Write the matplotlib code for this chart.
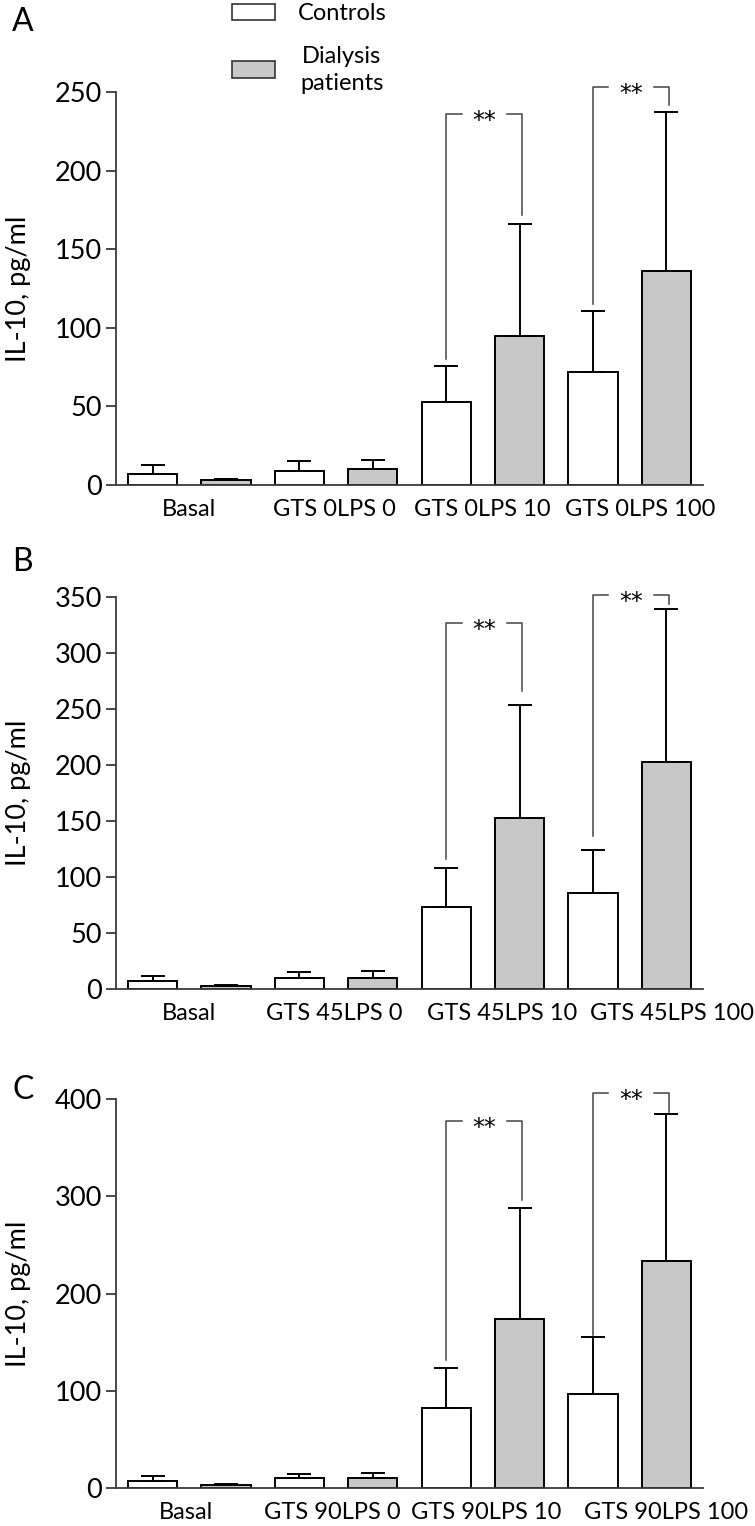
import matplotlib
matplotlib.use("Agg")
import matplotlib.pyplot as plt
import matplotlib.transforms as mtransforms
import numpy as np
from matplotlib.patches import Rectangle

plt.rcParams['font.family'] = ['Lato', 'DejaVu Sans']

# ---------------- data ----------------
group_labels_A = ["Basal", "GTS 0LPS 0", "GTS 0LPS 10", "GTS 0LPS 100"]
group_labels_B = ["Basal", "GTS 45LPS 0", "GTS 45LPS 10", "GTS 45LPS 100"]
group_labels_C = ["Basal", "GTS 90LPS 0", "GTS 90LPS 10", "GTS 90LPS 100"]

ctrl_A = [7, 9, 53, 72]
ctrl_A_top = [13, 15, 76, 111]
dial_A = [3, 10, 95, 136]
dial_A_top = [4, 16, 166, 237]

ctrl_B = [7, 10, 73, 86]
ctrl_B_top = [12, 15, 108, 124]
dial_B = [3, 10, 153, 203]
dial_B_top = [4, 16, 254, 339]

ctrl_C = [7, 10, 82, 97]
ctrl_C_top = [12, 14, 123, 155]
dial_C = [3, 10, 174, 233]
dial_C_top = [4, 15, 288, 385]

# significance brackets: (group index, bracket height, left end, right end)
sig_A = [(2, 236, 80, 172), (3, 253, 115, 242)]
sig_B = [(2, 327, 116, 266), (3, 352, 137, 344)]
sig_C = [(2, 377, 132, 296), (3, 406, 157, 387)]

yticks_A = [0, 50, 100, 150, 200, 250]
yticks_B = [0, 50, 100, 150, 200, 250, 300, 350]
yticks_C = [0, 100, 200, 300, 400]

label_x_A = [0.5, 2.48, 4.49, 6.64]
label_x_B = [0.5, 2.48, 4.76, 7.08]
label_x_C = [0.45, 2.45, 4.55, 7.0]

# ---------------- figure ----------------
W, H = 755, 1526
fig = plt.figure(figsize=(W / 100, H / 100), dpi=100)

GRAY = "#c8c8c8"
SPINE = "#3a3a3a"
BW = 0.67


def px_axes(top, bottom, left=116, right=703):
    return [left / W, 1 - bottom / H, (right - left) / W, (bottom - top) / H]


def panel(rect, ctrl, ctrl_top, dial, dial_top, yticks, labels, label_x, sig,
          letter, letter_y, top_px, bottom_px):
    ax = fig.add_axes(rect)
    n = len(ctrl)
    xc = np.arange(n) * 2
    xd = xc + 1
    ax.bar(xc, ctrl, width=BW, color="white", edgecolor="black", linewidth=1.4, zorder=2)
    ax.bar(xd, dial, width=BW, color=GRAY, edgecolor="black", linewidth=1.4, zorder=2)
    ax.errorbar(xc, ctrl, yerr=[np.zeros(n), np.array(ctrl_top) - np.array(ctrl)],
                fmt="none", ecolor="black", elinewidth=1.4, capsize=8.6, capthick=1.4, zorder=3)
    ax.errorbar(xd, dial, yerr=[np.zeros(n), np.array(dial_top) - np.array(dial)],
                fmt="none", ecolor="black", elinewidth=1.4, capsize=8.6, capthick=1.4, zorder=3)
    ax.set_xlim(-0.5, 7.5)
    ax.set_ylim(0, yticks[-1])
    ax.set_yticks(yticks)
    ax.set_xticks([])
    for s in ["top", "right"]:
        ax.spines[s].set_visible(False)
    for s in ["left", "bottom"]:
        ax.spines[s].set_color(SPINE)
        ax.spines[s].set_linewidth(1.3)
    ax.tick_params(axis="y", direction="out", length=7, width=1.3, color=SPINE,
                   labelsize=19.5, pad=3)
    for lx, lab in zip(label_x, labels):
        ax.text(lx, -0.035, lab, transform=ax.get_xaxis_transform(),
                ha="center", va="top", fontsize=17)
    # y label
    fig.text(19 / W, 1 - (top_px + bottom_px) / 2 / H, "IL-10, pg/ml", rotation=90,
             fontsize=19.5, ha="center", va="center")
    # significance brackets
    star_off = mtransforms.offset_copy(ax.transData, fig=fig, x=0, y=-10, units="points")
    for g, yb, le, re in sig:
        x0 = xc[g]
        x1 = xd[g] + 0.04
        xm = (x0 + x1) / 2
        gap = 0.31
        kw = dict(color="#444444", linewidth=1.1, clip_on=False, zorder=4)
        ax.plot([x0, x0, xm - gap], [le, yb, yb], **kw)
        ax.plot([xm + gap, x1, x1], [yb, yb, re], **kw)
        ax.text(xm, yb, "**", ha="center", va="baseline", fontsize=17,
                family=["DejaVu Sans"], transform=star_off, clip_on=False, zorder=5)
    fig.text(12 / W, 1 - letter_y / H, letter, fontsize=23, ha="left", va="center")
    return ax


panel(px_axes(92, 485), ctrl_A, ctrl_A_top, dial_A, dial_A_top, yticks_A,
      group_labels_A, label_x_A, sig_A, "A", 22, 92, 485)
panel(px_axes(597, 989), ctrl_B, ctrl_B_top, dial_B, dial_B_top, yticks_B,
      group_labels_B, label_x_B, sig_B, "B", 562, 597, 989)
panel(px_axes(1099, 1488), ctrl_C, ctrl_C_top, dial_C, dial_C_top, yticks_C,
      group_labels_C, label_x_C, sig_C, "C", 1090, 1099, 1488)

# legend (drawn manually as in the original)
fig.patches.append(Rectangle((232 / W, 1 - 20 / H), 43 / W, 16 / H, transform=fig.transFigure,
                             facecolor="white", edgecolor="#333333", linewidth=1.2))
fig.patches.append(Rectangle((232 / W, 1 - 78 / H), 43 / W, 17 / H, transform=fig.transFigure,
                             facecolor=GRAY, edgecolor="#333333", linewidth=1.2))
fig.text(342 / W, 1 - 13 / H, "Controls", fontsize=17, ha="center", va="center")
fig.text(342 / W, 1 - 70 / H, "Dialysis\npatients", fontsize=17, ha="center", va="center",
         linespacing=1.3)

fig.savefig("out.png", dpi=100)
